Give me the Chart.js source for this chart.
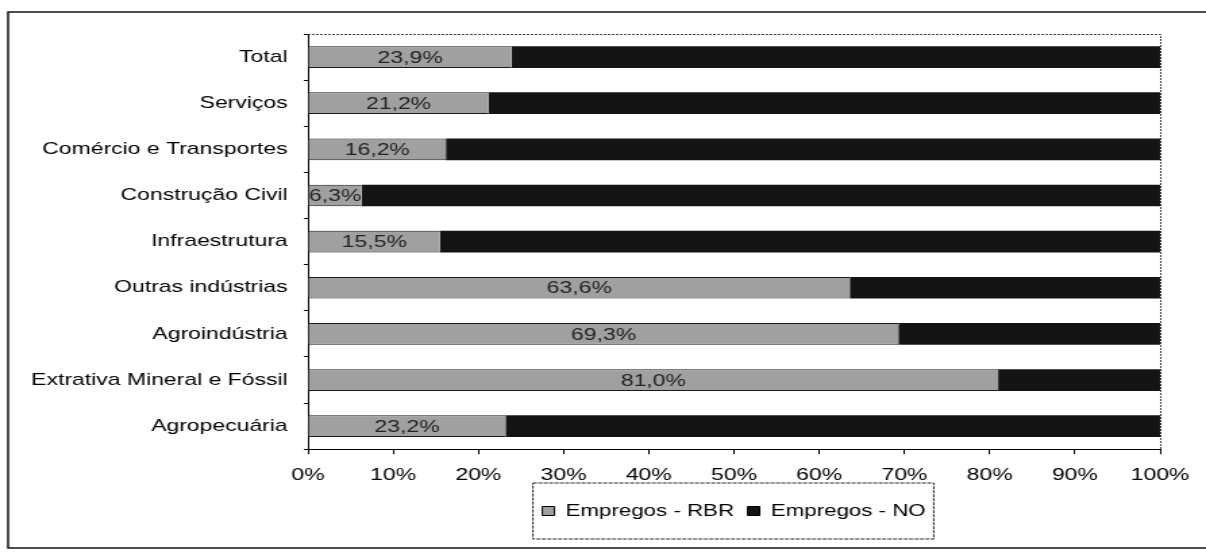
<!DOCTYPE html>
<html>
<head>
<meta charset="utf-8">
<script src="https://cdn.jsdelivr.net/npm/chart.js@4.4.1/dist/chart.umd.min.js"></script>
<style>
  html, body { margin: 0; padding: 0; background: #fff; overflow: hidden; }
  /* the scanned original is stretched sideways, so the whole chart is too */
  #wrap { width: 893px; height: 557px; transform: scaleX(1.3505); transform-origin: 0 0; }
</style>
</head>
<body>
<div id="wrap"><canvas id="barChart" width="893" height="557"></canvas></div>
<script>
// data
const categories = ['Total', 'Serviços', 'Comércio e Transportes', 'Construção Civil',
    'Infraestrutura', 'Outras indústrias', 'Agroindústria',
    'Extrativa Mineral e Fóssil', 'Agropecuária'];
const empregosRBR = [23.9, 21.2, 16.2, 6.3, 15.5, 63.6, 69.3, 81.0, 23.2];
const empregosNO = [76.1, 78.8, 83.8, 93.7, 84.5, 36.4, 30.7, 19.0, 76.8];
const tickValues = [0, 10, 20, 30, 40, 50, 60, 70, 80, 90, 100];

const fontFamily = "'Liberation Sans', Arial, sans-serif";

// frame round the whole picture and dotted frame round the plot
const framePlugin = {
    id: 'frames',
    afterLayout(chart) {
        // centre the legend under the plot, not under the whole canvas
        let lg = chart.legend;
        let a = chart.chartArea;
        lg.left = a.left;
        lg.right = a.right;
        lg.width = a.right - a.left;
    },
    beforeDraw(chart) {
        let ctx = chart.ctx;
        ctx.save();
        ctx.fillStyle = '#fff';
        ctx.fillRect(0, 0, chart.width, chart.height);
        ctx.strokeStyle = '#111';
        ctx.lineWidth = 1.5;
        ctx.beginPath();
        ctx.moveTo(chart.width, 12);
        ctx.lineTo(6, 12);
        ctx.lineTo(6, 548);
        ctx.lineTo(chart.width, 548);
        ctx.stroke();
        ctx.restore();
    },
    afterDraw(chart) {
        let ctx = chart.ctx;
        let a = chart.chartArea;
        ctx.save();
        ctx.strokeStyle = '#444';
        ctx.lineWidth = 1;
        ctx.setLineDash([2, 1]);
        ctx.beginPath();
        ctx.moveTo(a.left, a.top + 0.5);
        ctx.lineTo(a.right + 0.5, a.top + 0.5);
        ctx.lineTo(a.right + 0.5, a.bottom);
        ctx.stroke();

        // box round the legend
        let boxes = chart.legend.legendHitBoxes;
        if (boxes && boxes.length) {
            let left = Math.min(...boxes.map(b => b.left)) - 7;
            let right = Math.max(...boxes.map(b => b.left + b.width)) + 6;
            let mid = boxes[0].top + boxes[0].height / 2;
            ctx.setLineDash([3, 1]);
            ctx.strokeStyle = '#222';
            ctx.strokeRect(left, mid - 28, right - left, 56);
        }
        ctx.restore();
    }
};

// percentage labels in the middle of the RBR bars
const valueLabels = {
    id: 'valueLabels',
    afterDatasetsDraw(chart) {
        let ctx = chart.ctx;
        let meta = chart.getDatasetMeta(0);
        ctx.save();
        ctx.font = '17px ' + fontFamily;
        ctx.fillStyle = '#222';
        ctx.textAlign = 'center';
        ctx.textBaseline = 'middle';
        meta.data.forEach((bar, i) => {
            let txt = empregosRBR[i].toFixed(1).replace('.', ',') + '%';
            ctx.fillText(txt, (bar.base + bar.x) / 2, bar.y + 1);
        });
        ctx.restore();
    }
};

let ctx = document.getElementById('barChart').getContext('2d');
let chart = new Chart(ctx, {
    type: 'bar',
    data: {
        labels: categories,
        datasets: [{
            label: 'Empregos - RBR',
            data: empregosRBR,
            backgroundColor: '#a0a0a0',
            borderColor: '#1a1a1a',
            borderWidth: { top: 1, bottom: 1, left: 0, right: 0 },
            borderSkipped: false
        }, {
            label: 'Empregos - NO',
            data: empregosNO,
            backgroundColor: '#141414',
            borderWidth: 0
        }]
    },
    options: {
        indexAxis: 'y',
        responsive: false,
        animation: false,
        devicePixelRatio: 1,
        layout: { padding: { left: 6, right: 34, top: 34, bottom: 27.75 } },
        datasets: { bar: { barPercentage: 0.47, categoryPercentage: 1 } },
        scales: {
            x: {
                stacked: true,
                min: 0,
                max: 100,
                afterBuildTicks(scale) {
                    scale.ticks = tickValues.map(v => ({ value: v }));
                },
                afterFit(scale) { scale.height = 43.5; },
                ticks: {
                    callback: v => v + '%',
                    color: '#000',
                    padding: 11,
                    maxRotation: 0,
                    font: { family: fontFamily, size: 17 }
                },
                grid: { drawOnChartArea: false, drawTicks: true, tickLength: 5, color: '#000' },
                border: { display: true, color: '#000', width: 1 }
            },
            y: {
                stacked: true,
                afterFit(scale) { scale.width = 222; },
                ticks: {
                    color: '#000',
                    padding: 12,
                    font: { family: fontFamily, size: 17 }
                },
                grid: { drawOnChartArea: false, drawTicks: true, tickLength: 3, color: '#000' },
                border: { display: true, color: '#000', width: 1 }
            }
        },
        plugins: {
            legend: {
                position: 'bottom',
                labels: {
                    color: '#000',
                    boxWidth: 9,
                    boxHeight: 9,
                    padding: 10,
                    font: { family: fontFamily, size: 16.5 },
                    generateLabels(chart) {
                        return chart.data.datasets.map((ds, i) => ({
                            text: ds.label,
                            fillStyle: ds.backgroundColor,
                            strokeStyle: '#000',
                            lineWidth: 1,
                            datasetIndex: i,
                            hidden: false
                        }));
                    }
                }
            },
            tooltip: { enabled: false }
        }
    },
    plugins: [framePlugin, valueLabels]
});
</script>
</body>
</html>
